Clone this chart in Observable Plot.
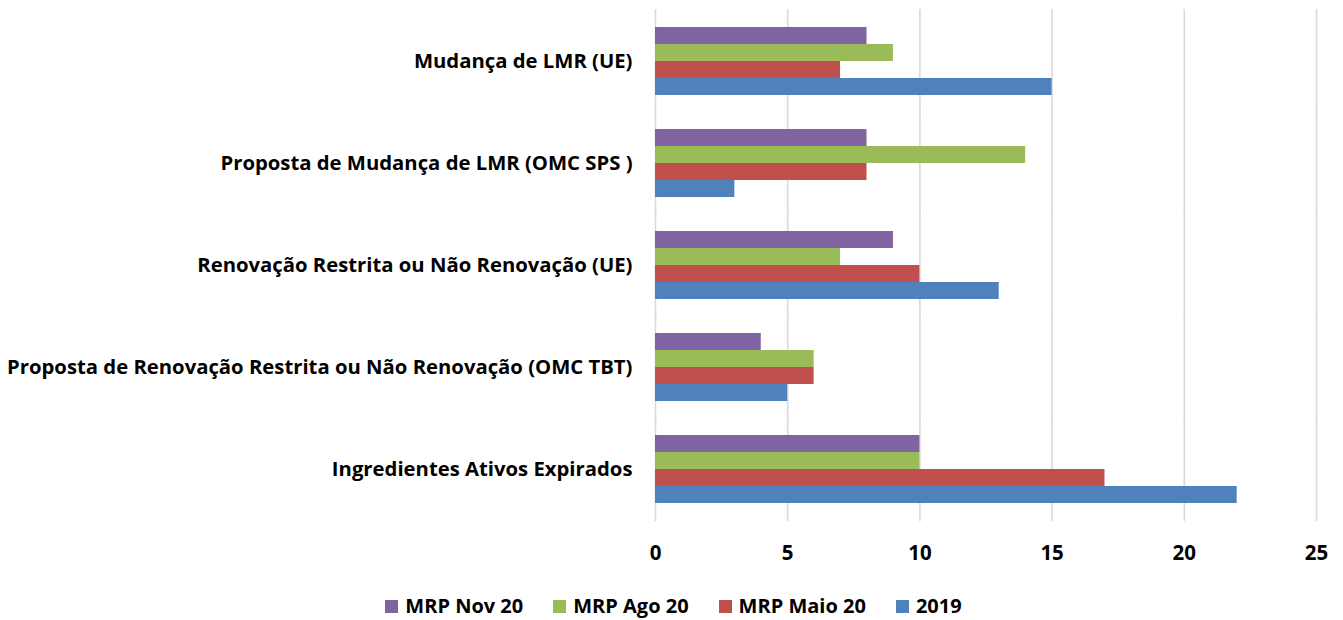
<!DOCTYPE html>
<html>
<head>
<meta charset="utf-8">
<script src="https://cdn.jsdelivr.net/npm/d3@7"></script>
<script src="https://cdn.jsdelivr.net/npm/@observablehq/plot@0.6"></script>
<style>
  html, body { margin: 0; padding: 0; background: #fff; }
  #chart { width: 1343px; }
  .legend { display: flex; justify-content: center; align-items: center; font-family: "Open Sans", sans-serif; font-weight: 700; font-size: 20px; color: #000; margin-top: 19px; padding-left: 4px; line-height: 24px; }
  .legend .item { display: flex; align-items: center; margin: 0 15px; }
  .legend .sw { width: 13px; height: 13px; margin-right: 7px; }
</style>
</head>
<body>
<div id="chart"></div>
<script>
const categories = [
  "Mudança de LMR (UE)",
  "Proposta de Mudança de LMR (OMC SPS )",
  "Renovação Restrita ou Não Renovação (UE)",
  "Proposta de Renovação Restrita ou Não Renovação (OMC TBT)",
  "Ingredientes Ativos Expirados"
];
const seriesNames = ["MRP Nov 20", "MRP Ago 20", "MRP Maio 20", "2019"];
const seriesColors = ["#8064A2", "#9BBB59", "#C0504D", "#4F81BD"];
const nov20  = [8, 8, 9, 4, 10];
const ago20  = [9, 14, 7, 6, 10];
const maio20 = [7, 8, 10, 6, 17];
const y2019  = [15, 3, 13, 5, 22];
const xTicks = [0, 5, 10, 15, 20, 25];

const seriesValues = [nov20, ago20, maio20, y2019];
const data = [];
categories.forEach((c, i) => {
  seriesNames.forEach((s, j) => {
    data.push({category: c, series: s, value: seriesValues[j][i]});
  });
});

const chart = Plot.plot({
  width: 1343,
  height: 575,
  marginLeft: 655,
  marginRight: 27,
  marginTop: 10,
  marginBottom: 54,
  style: {fontFamily: "'Open Sans', sans-serif", fontWeight: 700, fontSize: "20px", color: "#000", background: "#fff"},
  x: {domain: [0, 25], ticks: xTicks, label: null},
  fy: {domain: categories, paddingInner: 0.31, paddingOuter: 0.155, label: null},
  y: {domain: seriesNames, padding: 0, axis: null},
  color: {domain: seriesNames, range: seriesColors},
  marks: [
    Plot.ruleX(xTicks, {x: d => d, stroke: "#d9d9d9", strokeWidth: 1.6, insetTop: -17, insetBottom: -17}),
    Plot.barX(data, {fy: "category", y: "series", x: "value", fill: "series"}),
    Plot.axisFy({anchor: "left", tickSize: 0, tickPadding: 23, fontSize: 20.3, fontWeight: 700, label: null}),
    Plot.axisX({ticks: xTicks, tickSize: 0, tickPadding: 41, fontSize: 20.5, fontWeight: 700, label: null})
  ]
});
document.getElementById("chart").appendChild(chart);

const legend = document.createElement("div");
legend.className = "legend";
seriesNames.forEach((s, j) => {
  const it = document.createElement("div");
  it.className = "item";
  const sw = document.createElement("span");
  sw.className = "sw";
  sw.style.background = seriesColors[j];
  const t = document.createElement("span");
  t.textContent = s;
  it.appendChild(sw); it.appendChild(t);
  legend.appendChild(it);
});
document.getElementById("chart").appendChild(legend);
</script>
</body>
</html>
